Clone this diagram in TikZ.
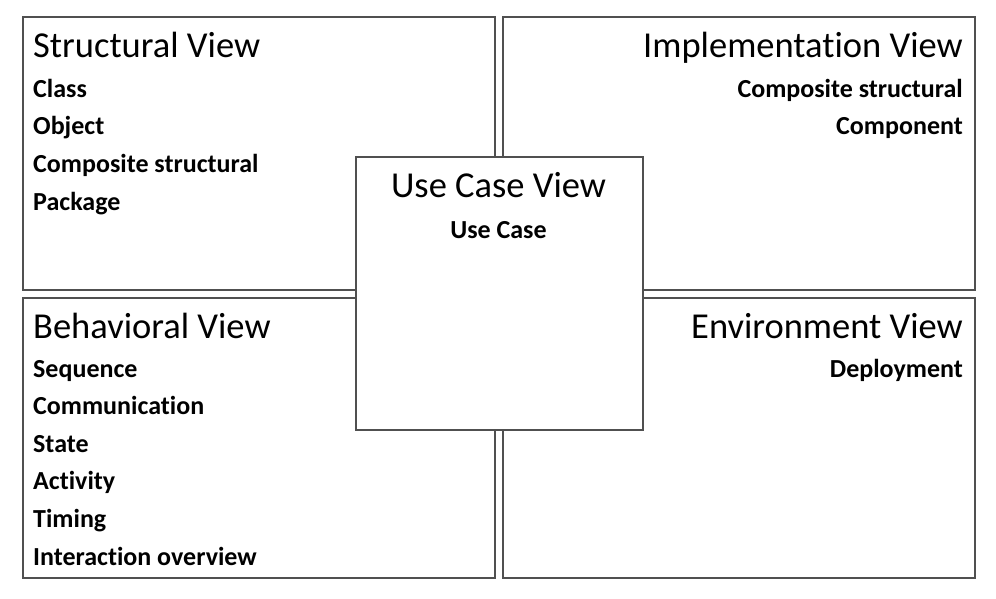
\documentclass[tikz,border=0pt]{standalone}
\usepackage{fontspec}
\setmainfont{Carlito}[Ligatures={NoCommon}]
\definecolor{edge}{HTML}{505050}
\begin{document}
\begin{tikzpicture}[x=1pt,y=-1pt,
  viewbox/.style={draw=edge, line width=1.5pt, fill=white, rectangle, inner sep=0pt, anchor=north west},
  ttl/.style={font=\fontsize{36.5}{38}\selectfont, inner sep=0pt},
  item/.style={font=\fontsize{26}{28}\selectfont\bfseries, inner sep=0pt}]
\useasboundingbox (0,0) rectangle (996,598);
\node[viewbox, minimum width=472pt, minimum height=273pt] (sv) at (22,16) {};
\node[viewbox, minimum width=472pt, minimum height=273pt] (iv) at (502,16) {};
\node[viewbox, minimum width=472pt, minimum height=280pt] (bv) at (22,297) {};
\node[viewbox, minimum width=472pt, minimum height=280pt] (ev) at (502,297) {};
\node[viewbox, minimum width=287pt, minimum height=273pt] (uv) at (355,156) {};
% Structural
\node[ttl, anchor=base west] (svt) at (33,57) {Structural View};
\node[item, anchor=base west] (sv1) at (33,97) {Class};
\node[item, anchor=base west] (sv2) at (33,134.7) {Object};
\node[item, anchor=base west] (sv3) at (33,172.4) {Composite structural};
\node[item, anchor=base west] (sv4) at (33,210.1) {Package};
% Implementation
\node[ttl, anchor=base east] (ivt) at (963,57) {Implementation View};
\node[item, anchor=base east] (iv1) at (963,97) {Composite structural};
\node[item, anchor=base east] (iv2) at (963,134.7) {Component};
% Behavioral
\node[ttl, anchor=base west] (bvt) at (33,338) {Behavioral View};
\node[item, anchor=base west] (bv1) at (33,377) {Sequence};
\node[item, anchor=base west] (bv2) at (33,414.6) {Communication};
\node[item, anchor=base west] (bv3) at (33,452.2) {State};
\node[item, anchor=base west] (bv4) at (33,489.8) {Activity};
\node[item, anchor=base west] (bv5) at (33,527.4) {Timing};
\node[item, anchor=base west] (bv6) at (33,565) {Interaction overview};
% Environment
\node[ttl, anchor=base east] (evt) at (963,338) {Environment View};
\node[item, anchor=base east] (ev1) at (963,377) {Deployment};
% Use case
\node[ttl, anchor=base] (uvt) at (498.5,197) {Use Case View};
\node[item, anchor=base] (uv1) at (498.5,238) {Use Case};
\end{tikzpicture}
\end{document}
